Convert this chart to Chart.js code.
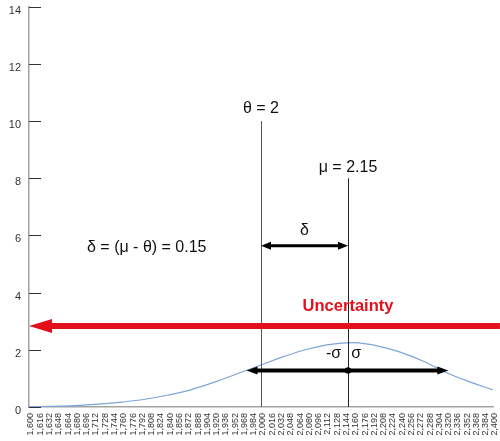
<!DOCTYPE html>
<html>
<head>
<meta charset="utf-8">
<script src="https://cdn.jsdelivr.net/npm/chart.js@4.4.0/dist/chart.umd.min.js"></script>
<style>
  body { margin: 0; background: #fff; }
  #wrap { width: 500px; height: 441px; }
</style>
</head>
<body>
<div id="wrap"><canvas id="chart"></canvas></div>
<script>
// density curve, every 0.04
var xValues = [1.60, 1.64, 1.68, 1.72, 1.76, 1.80, 1.84, 1.88, 1.92, 1.96, 2.00,
               2.04, 2.08, 2.12, 2.16, 2.20, 2.24, 2.28, 2.32, 2.36, 2.40];
var densityValues = [0.01, 0.02, 0.05, 0.10, 0.17, 0.27, 0.42, 0.61, 0.87, 1.17, 1.47,
                     1.77, 2.02, 2.19, 2.25, 2.14, 1.92, 1.60, 1.20, 0.88, 0.60];

// x tick labels run 1,600 .. 2,400 in steps of 0,016
var xTickStart = 1.6;
var xTickStep = 0.016;
var xTickCount = 51;
var yTicks = [0, 2, 4, 6, 8, 10, 12, 14];

// annotation values (data units)
var theta = 2, thetaTop = 10;
var mu = 2.15, muTop = 8;
var deltaY = 5.64;
var uncertaintyY = 2.83, uncertaintyFrom = 2.412, uncertaintyTo = 1.6;
var sigmaY = 1.28, sigmaFrom = 1.975, sigmaTo = 2.323;

var FONT = '"Liberation Sans", Arial, sans-serif';

var xTickValues = [];
for (var i = 0; i < xTickCount; i++) {
  xTickValues.push(+(xTickStart + i * xTickStep).toFixed(3));
}

function arrowHead(ctx, x, y, dir, len, half) {
  ctx.beginPath();
  ctx.moveTo(x, y);
  ctx.lineTo(x - dir * len, y - half);
  ctx.lineTo(x - dir * len, y + half);
  ctx.closePath();
  ctx.fill();
}

function label(ctx, text, x, y, size, color, bold) {
  ctx.font = (bold ? 'bold ' : '') + size + 'px ' + FONT;
  ctx.fillStyle = color;
  ctx.textAlign = 'center';
  ctx.textBaseline = 'middle';
  ctx.fillText(text, x, y);
}

// little tick marks pointing into the plot on the y axis
var innerTicks = {
  id: 'innerTicks',
  afterDraw: function(chart) {
    var ctx = chart.ctx, ys = chart.scales.y, left = chart.chartArea.left;
    ctx.save();
    ctx.strokeStyle = '#333';
    ctx.lineWidth = 1;
    yTicks.forEach(function(v) {
      var py = Math.round(ys.getPixelForValue(v)) + 0.5;
      ctx.beginPath();
      ctx.moveTo(left, py);
      ctx.lineTo(left + 12, py);
      ctx.stroke();
    });
    ctx.restore();
  }
};

var annotations = {
  id: 'annotations',
  afterDatasetsDraw: function(chart) {
    var ctx = chart.ctx, xs = chart.scales.x, ys = chart.scales.y;
    var X = function(v) { return xs.getPixelForValue(v); };
    var Y = function(v) { return ys.getPixelForValue(v); };
    ctx.save();

    // theta and mu lines
    ctx.lineWidth = 1;
    ctx.strokeStyle = '#555';
    ctx.beginPath();
    ctx.moveTo(Math.round(X(theta)) + 0.5, Y(0));
    ctx.lineTo(Math.round(X(theta)) + 0.5, Y(thetaTop));
    ctx.stroke();
    ctx.strokeStyle = '#222';
    ctx.beginPath();
    ctx.moveTo(Math.round(X(mu)) + 0.5, Y(0));
    ctx.lineTo(Math.round(X(mu)) + 0.5, Y(muTop));
    ctx.stroke();

    // delta arrow
    ctx.fillStyle = '#000';
    ctx.strokeStyle = '#000';
    ctx.lineWidth = 3;
    ctx.beginPath();
    ctx.moveTo(X(theta) + 6, Y(deltaY));
    ctx.lineTo(X(mu) - 6, Y(deltaY));
    ctx.stroke();
    arrowHead(ctx, X(theta), Y(deltaY), -1, 10, 4);
    arrowHead(ctx, X(mu), Y(deltaY), 1, 10, 4);

    // uncertainty arrow
    ctx.fillStyle = '#e3101c';
    ctx.strokeStyle = '#e3101c';
    ctx.lineWidth = 6;
    ctx.beginPath();
    ctx.moveTo(X(uncertaintyFrom), Y(uncertaintyY));
    ctx.lineTo(X(uncertaintyTo) + 20, Y(uncertaintyY));
    ctx.stroke();
    arrowHead(ctx, X(uncertaintyTo), Y(uncertaintyY), -1, 23, 7);

    // sigma arrow with centre dot
    ctx.fillStyle = '#000';
    ctx.strokeStyle = '#000';
    ctx.lineWidth = 4;
    ctx.beginPath();
    ctx.moveTo(X(sigmaFrom) + 8, Y(sigmaY));
    ctx.lineTo(X(sigmaTo) - 8, Y(sigmaY));
    ctx.stroke();
    arrowHead(ctx, X(sigmaFrom), Y(sigmaY), -1, 11, 4);
    arrowHead(ctx, X(sigmaTo), Y(sigmaY), 1, 11, 4);
    ctx.beginPath();
    ctx.arc(X(mu), Y(sigmaY), 3.2, 0, Math.PI * 2);
    ctx.fill();

    // texts
    label(ctx, '\u03b8 = 2', X(theta), Y(10.45), 16, '#111');
    label(ctx, '\u03bc = 2.15', X(mu), Y(8.38), 16, '#111');
    label(ctx, '\u03b4', X(2.075), Y(6.18), 16, '#111');
    label(ctx, '\u03b4 = (\u03bc - \u03b8) = 0.15', X(1.803), Y(5.59), 16, '#111');
    label(ctx, 'Uncertainty', X(2.15), Y(3.52), 16.5, '#e3101c', true);
    label(ctx, '-\u03c3', X(2.125), Y(1.88), 16, '#111');
    label(ctx, '\u03c3', X(2.164), Y(1.88), 16, '#111');

    ctx.restore();
  }
};

var ctx = document.getElementById('chart').getContext('2d');
var myChart = new Chart(ctx, {
  type: 'line',
  data: {
    datasets: [{
      data: xValues.map(function(x, i) { return {x: x, y: densityValues[i]}; }),
      borderColor: '#7ca6da',
      borderWidth: 1.2,
      pointRadius: 0,
      tension: 0.4,
      fill: false
    }]
  },
  options: {
    responsive: true,
    maintainAspectRatio: false,
    animation: false,
    layout: { padding: { top: 6.7, right: 7, left: 0, bottom: 0 } },
    plugins: { legend: { display: false }, tooltip: { enabled: false } },
    scales: {
      x: {
        type: 'linear',
        min: 1.6,
        max: 2.4,
        afterBuildTicks: function(axis) {
          axis.ticks = xTickValues.map(function(v) { return {value: v}; });
        },
        afterFit: function(axis) {
          axis.height = 34;
          axis.paddingLeft = 0;
          axis.paddingRight = 0;
        },
        grid: { drawOnChartArea: false, drawTicks: false },
        border: { color: '#a3a3a3', width: 1.5 },
        ticks: {
          autoSkip: false,
          minRotation: 90,
          maxRotation: 90,
          padding: 6,
          labelOffset: 2,
          color: '#333',
          font: { family: FONT, size: 9 },
          callback: function(v) { return Number(v).toFixed(3).replace('.', ','); }
        }
      },
      y: {
        min: 0,
        max: 14,
        afterFit: function(axis) {
          axis.width = 29;
          axis.paddingTop = 0;
          axis.paddingBottom = 0;
        },
        grid: { drawOnChartArea: false, drawTicks: false },
        border: { color: '#a3a3a3', width: 1.5 },
        ticks: {
          stepSize: 2,
          padding: 8,
          labelOffset: 4,
          color: '#333',
          font: { family: FONT, size: 11 }
        }
      }
    }
  },
  plugins: [innerTicks, annotations]
});
</script>
</body>
</html>
